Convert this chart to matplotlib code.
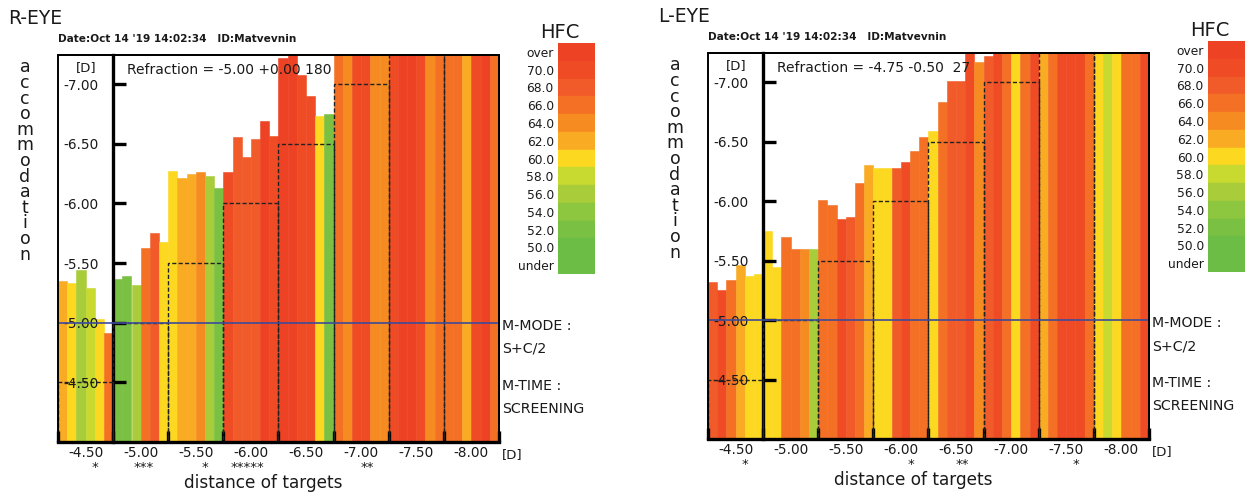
import numpy as np
import matplotlib.pyplot as plt
from matplotlib.patches import Rectangle

W, H = 1249, 495

# ------------------------------------------------------------
# data
# ------------------------------------------------------------
targets = [-4.50, -5.00, -5.50, -6.00, -6.50, -7.00, -7.50, -8.00]
bars_per_target = 6

hfc_labels = ['over', '70.0', '68.0', '66.0', '64.0', '62.0', '60.0',
              '58.0', '56.0', '54.0', '52.0', '50.0', 'under']
hfc_levels = [72, 70, 68, 66, 64, 62, 60, 58, 56, 54, 52, 50, 48]
hfc_colors = ['#EE4224', '#EF4B25', '#F15A29', '#F37024', '#F68B22', '#F9AC23',
              '#FDD821', '#C8D92F', '#A8CC3A', '#8DC63F', '#79C043', '#6CBD45',
              '#6CBD45']

# R-EYE
r_acc = [-5.35, -5.33, -5.44, -5.29, -5.03, -4.91,
         -5.37, -5.39, -5.32, -5.63, -5.75, -5.68,
         -6.27, -6.21, -6.25, -6.26, -6.23, -6.13,
         -6.26, -6.56, -6.39, -6.54, -6.69, -6.57,
         -7.22, -7.35, -7.08, -6.90, -6.73, -6.75,
         -7.60, -7.60, -7.60, -7.60, -7.60, -7.60,
         -7.60, -7.60, -7.60, -7.60, -7.60, -7.60,
         -7.60, -7.60, -7.60, -7.60, -7.60, -7.60]
r_hfc = [62, 60, 56, 58, 60, 66,
         52, 52, 56, 66, 68, 60,
         60, 62, 62, 64, 56, 52,
         70, 68, 68, 68, 72, 70,
         72, 72, 70, 70, 60, 52,
         66, 64, 70, 70, 64, 64,
         70, 72, 72, 70, 64, 66,
         66, 66, 62, 70, 72, 66]
r_stars = ['*', '***', '*', '*****', '', '**', '', '']
r_refr = 'Refraction = -5.00 +0.00 180'

# L-EYE
l_acc = [-5.32, -5.25, -5.34, -5.46, -5.37, -5.39,
         -5.75, -5.45, -5.70, -5.60, -5.60, -5.60,
         -6.01, -5.97, -5.85, -5.87, -6.15, -6.30,
         -6.28, -6.28, -6.28, -6.33, -6.42, -6.54,
         -6.59, -6.83, -7.01, -7.01, -7.30, -7.17,
         -7.22, -7.60, -7.60, -7.60, -7.60, -7.60,
         -7.60, -7.60, -7.60, -7.60, -7.60, -7.60,
         -7.60, -7.60, -7.60, -7.60, -7.60, -7.60]
l_hfc = [68, 70, 66, 62, 60, 60,
         60, 60, 66, 66, 64, 56,
         66, 66, 70, 68, 66, 62,
         60, 60, 68, 70, 66, 66,
         60, 66, 68, 68, 70, 64,
         68, 70, 66, 60, 66, 70,
         62, 66, 70, 70, 70, 66,
         60, 58, 60, 66, 66, 70]
l_stars = ['*', '', '', '*', '**', '', '*', '']
l_refr = 'Refraction = -4.75 -0.50  27'

m_value = -5.00          # S+C/2
date_txt = "Date:Oct 14 '19 14:02:34   ID:Matvevnin"

base, top = -4.0, -7.245
ink = '#1a1a1a'
color_of = dict(zip(hfc_levels, hfc_colors))


def fx(x):
    return x / W


def fy(y):
    return 1 - y / H


def ftext(x, y, s, **kw):
    kw.setdefault('va', 'center')
    kw.setdefault('color', ink)
    return fig.text(fx(x), fy(y), s, **kw)


def draw_panel(x0, y0, x1, y1, eye, acc, hfc, stars, refr):
    ax = fig.add_axes([fx(x0), fy(y1), (x1 - x0) / W, (y1 - y0) / H])
    n = len(acc)
    xs = np.arange(n) + 0.5
    cols = [color_of[h] for h in hfc]
    ax.bar(xs, np.array(acc) - base, bottom=base, width=1.0, color=cols,
           edgecolor=cols, linewidth=0.4, zorder=1)
    ax.set_xlim(0, n)
    ax.set_ylim(base, top)

    # target staircase
    for i, t in enumerate(targets):
        ax.add_patch(Rectangle((i * bars_per_target, base), bars_per_target, t - base,
                               fill=False, ec='#222222', lw=1.0,
                               ls=(0, (3, 1.6)), zorder=3))
    ax.axhline(m_value, color='#3D4B99', lw=1.2, zorder=4)

    # spines / frame
    ax.spines['left'].set_position(('data', bars_per_target))
    ax.spines['left'].set_linewidth(2.4)
    ax.spines['bottom'].set_linewidth(2.4)
    for s in ['top', 'right']:
        ax.spines[s].set_linewidth(1.2)
    ax.add_patch(Rectangle((0, 0), 1, 1, transform=ax.transAxes, fill=False,
                           ec='black', lw=1.4, clip_on=False, zorder=5))

    yt = [t for t in targets if t >= -7.0]
    ax.set_yticks(yt)
    ax.set_yticklabels([f'{t:.2f}' for t in yt])
    ax.tick_params(axis='y', direction='in', length=9, width=2.4, pad=10.5,
                   labelsize=9.8, labelcolor=ink)

    ax.set_xticks(np.arange(0, n + 1, bars_per_target))
    ax.set_xticks(np.arange(len(targets)) * bars_per_target + bars_per_target / 2,
                  minor=True)
    ax.set_xticklabels([f'{t:.2f}' for t in targets], minor=True)
    ax.tick_params(axis='x', which='major', direction='in', length=8, width=2.4,
                   labelbottom=False)
    ax.tick_params(axis='x', which='minor', length=0, pad=3, labelsize=9.8,
                   labelcolor=ink)

    for i, s in enumerate(stars):
        if s:
            ax.text(i * bars_per_target + bars_per_target / 2 + 1.4, -0.048, s,
                    transform=ax.get_xaxis_transform(), ha='right', va='top',
                    fontsize=9.5, color=ink)

    # texts around the panel
    ftext(x0 - 50, y0 - 36, eye, fontsize=13.5)
    ftext(x0, y0 - 16.5, date_txt, fontsize=7.6, fontweight='bold')
    ftext(x0 + 69, y0 + 15.5, refr, fontsize=10)
    ftext(x0 + 28, y0 + 13, '[D]', fontsize=9.5, ha='center')
    for k, ch in enumerate('accommodation'):
        ftext(x0 - 33, y0 + 12.5 + 15.6 * k, ch, fontsize=12.5, ha='center')
    ftext(x1 + 3, y1 + 13, '[D]', fontsize=9.5)
    ftext(x0 + 205, y1 + 41, 'distance of targets', fontsize=12.2, ha='center')
    for dy, s in [(-116, 'M-MODE :'), (-93, 'S+C/2'), (-56, 'M-TIME :'),
                  (-33, 'SCREENING')]:
        ftext(x1 + 3, y1 + dy, s, fontsize=10.2)

    # HFC legend
    lx, ly, lw_, lh = x1 + 59, y0 - 12, 37, 231
    lax = fig.add_axes([fx(lx), fy(ly + lh), lw_ / W, lh / H])
    lax.barh(np.arange(len(hfc_labels)), 1, height=1.0, color=hfc_colors,
             edgecolor=hfc_colors, linewidth=0.3)
    lax.set_ylim(len(hfc_labels) - 0.5, -0.5)
    lax.set_xlim(0, 1)
    lax.set_yticks(np.arange(len(hfc_labels)))
    lax.set_yticklabels(hfc_labels)
    lax.set_xticks([])
    lax.tick_params(axis='y', length=0, pad=3, labelsize=8.8, labelcolor=ink)
    for s in lax.spines.values():
        s.set_visible(False)
    ftext(lx + 2, ly - 11, 'HFC', fontsize=14, ha='center')
    return ax


fig = plt.figure(figsize=(W / 100, H / 100), dpi=100)

draw_panel(58, 55, 499, 442, 'R-EYE', r_acc, r_hfc, r_stars, r_refr)
draw_panel(708, 53, 1149, 439, 'L-EYE', l_acc, l_hfc, l_stars, l_refr)

fig.savefig('out.png', dpi=100)
